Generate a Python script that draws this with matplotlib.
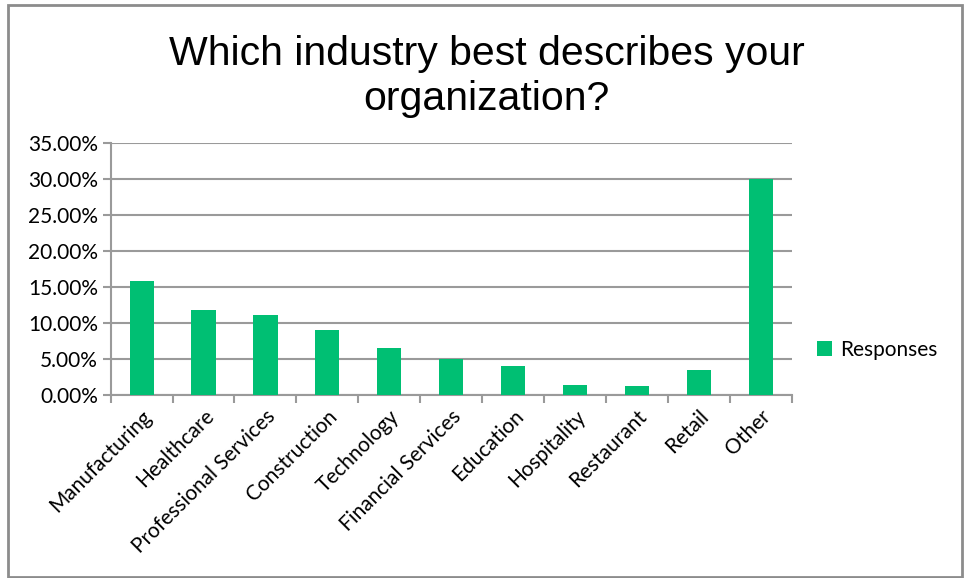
import matplotlib
matplotlib.use('Agg')
import matplotlib.pyplot as plt
from matplotlib.patches import Rectangle
from matplotlib.ticker import PercentFormatter

categories = ['Manufacturing', 'Healthcare', 'Professional Services', 'Construction',
              'Technology', 'Financial Services', 'Education', 'Hospitality',
              'Restaurant', 'Retail', 'Other']
responses = [15.9, 11.8, 11.1, 9.0, 6.5, 5.0, 4.0, 1.4, 1.25, 3.5, 30.1]
yticks = [0, 5, 10, 15, 20, 25, 30, 35]

green = '#00BF73'
grid = '#9a9a9a'
label_font = ['Lato', 'DejaVu Sans']

fig = plt.figure(figsize=(9.64, 5.78), dpi=100)
ax = fig.add_axes([0.1148, 0.3166, 0.7065, 0.4355])

x = range(len(categories))
ax.bar(x, responses, width=0.39, color=green, label='Responses', zorder=3)

ax.set_xlim(-0.5, len(categories) - 0.5)
ax.set_ylim(0, 35)
ax.set_yticks(yticks)
ax.yaxis.set_major_formatter(PercentFormatter(decimals=2))
ax.grid(axis='y', color=grid, linewidth=1.5, zorder=0)

# category ticks sit on the boundaries, labels in the middle
ax.set_xticks([i - 0.5 for i in range(len(categories) + 1)])
ax.set_xticklabels([])
ax.set_xticks(list(x), minor=True)
ax.set_xticklabels(categories, minor=True, rotation=45, ha='right',
                   rotation_mode='anchor', fontsize=15, family=label_font)
ax.tick_params(axis='x', which='minor', length=0, pad=8)
ax.tick_params(axis='x', which='major', length=6, width=1.5, color=grid, direction='out')
ax.tick_params(axis='y', length=6, width=1.5, color=grid, labelsize=15, pad=3)
for lbl in ax.get_yticklabels():
    lbl.set_family(label_font)

for side in ['top', 'right']:
    ax.spines[side].set_visible(False)
for side in ['left', 'bottom']:
    ax.spines[side].set_color(grid)
    ax.spines[side].set_linewidth(1.5)

fig.text(0.505, 0.868, 'Which industry best describes your\norganization?',
         ha='center', va='center', fontsize=29.5, family='Liberation Sans',
         linespacing=1.25)

leg = ax.legend(loc='center left', bbox_to_anchor=(1.01, 0.18), frameon=False,
                prop={'family': 'Lato', 'size': 15}, handlelength=0.7,
                handleheight=0.7, handletextpad=0.4)

# outer border of the chart
fig.patches.append(Rectangle((0.008, 0.002), 0.99, 0.99, transform=fig.transFigure,
                             fill=False, edgecolor='#8c8c8c', linewidth=2))

fig.savefig('out.png', dpi=100, facecolor='white')
